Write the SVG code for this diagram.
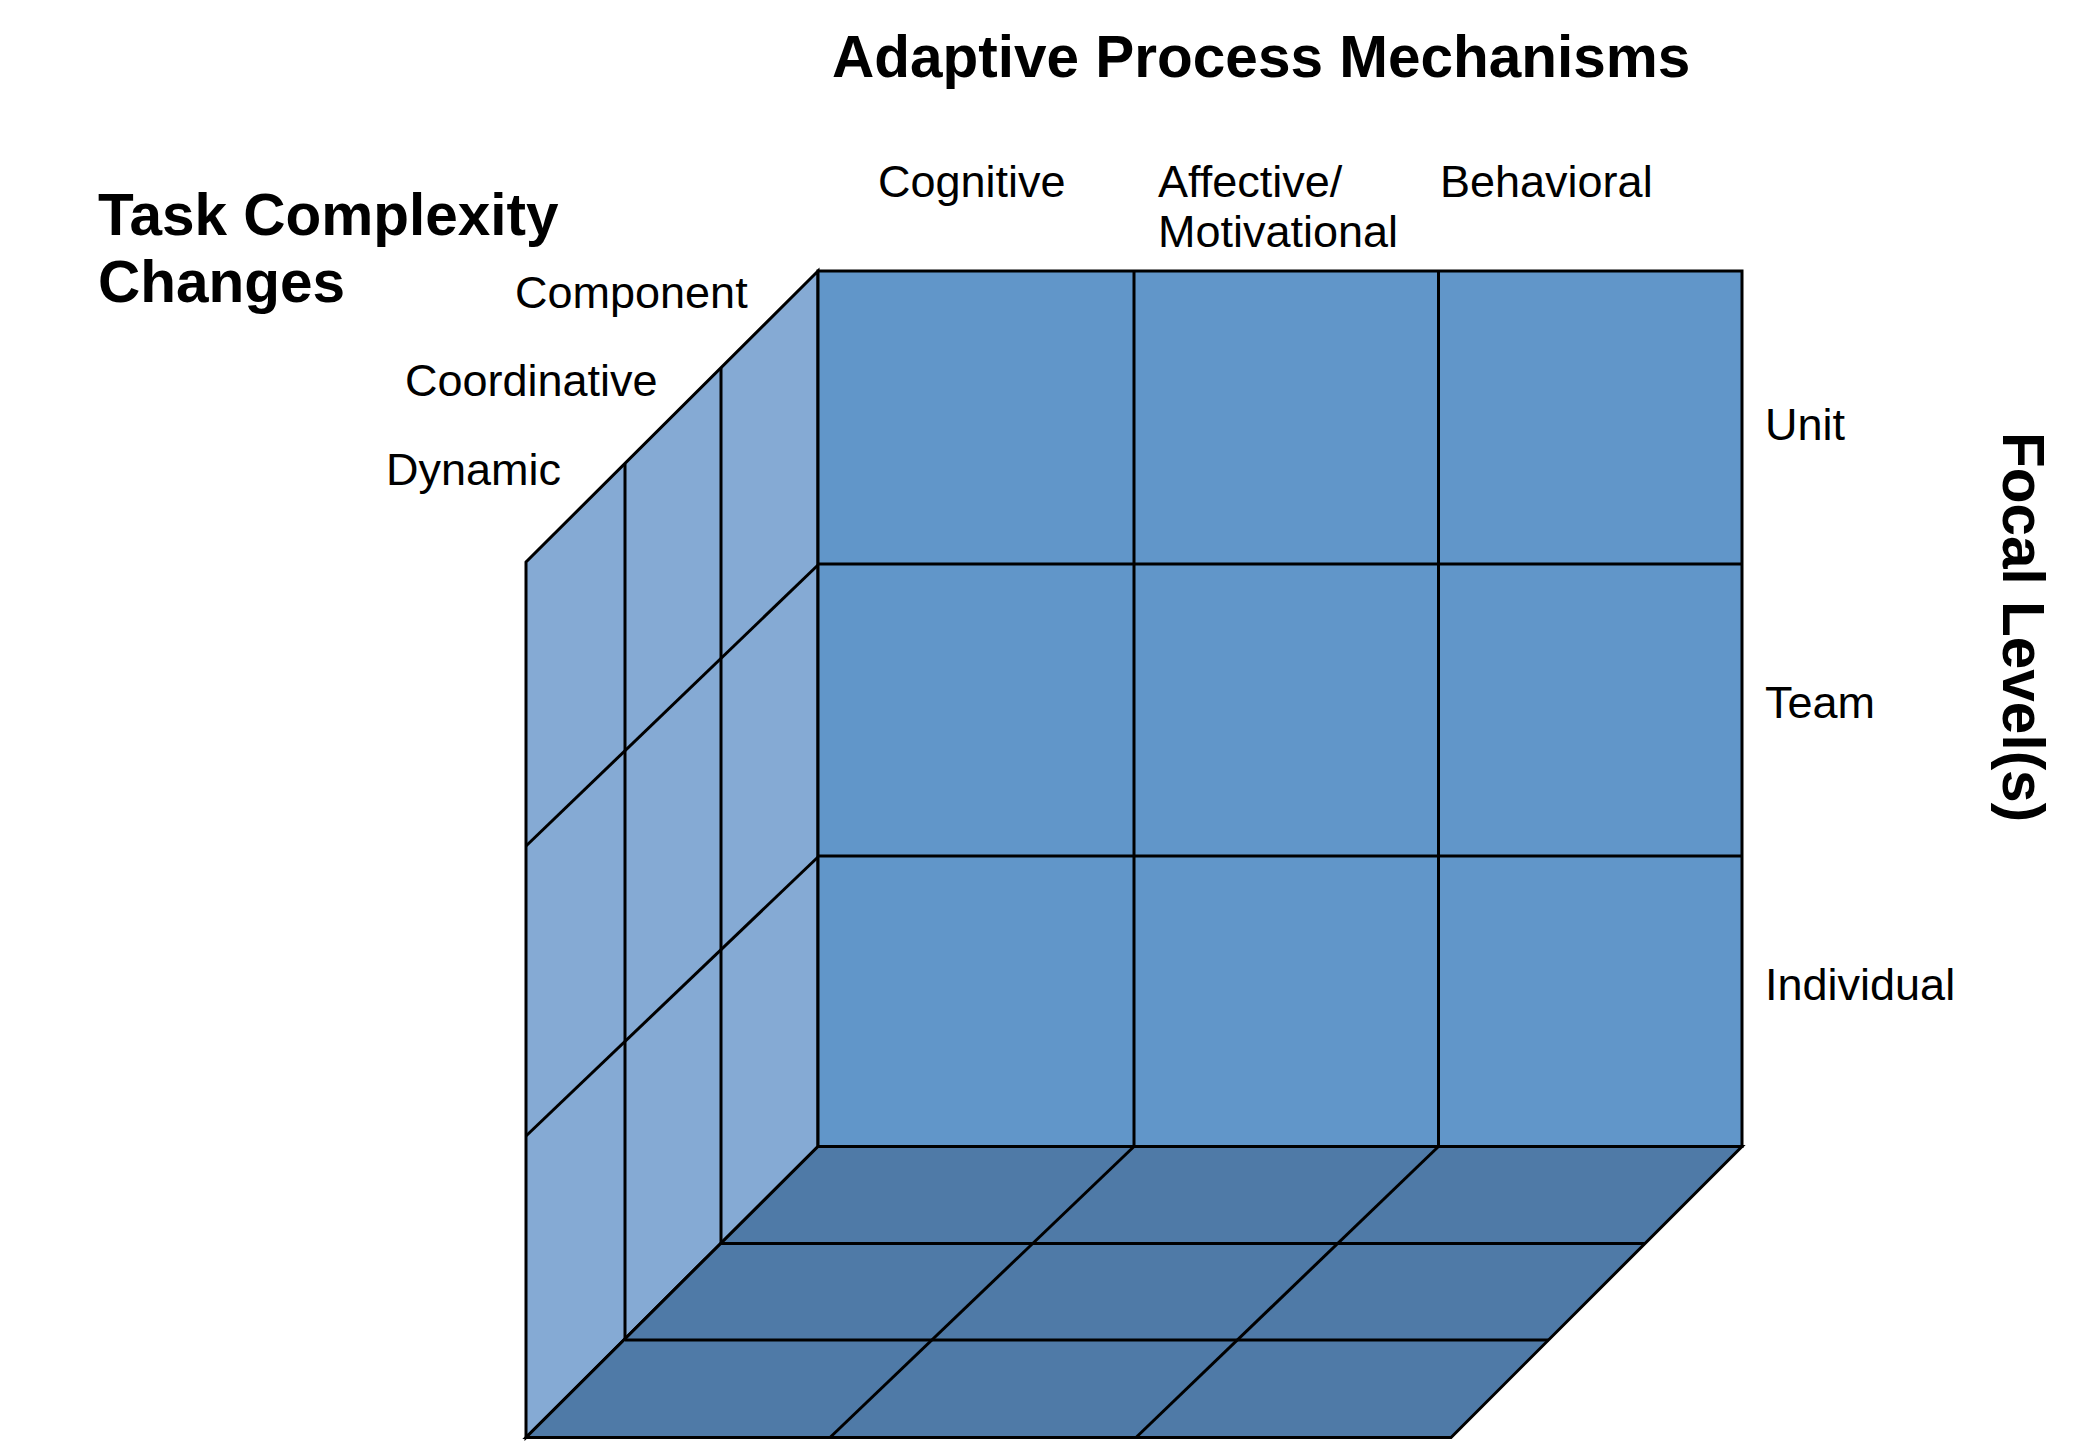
<svg xmlns="http://www.w3.org/2000/svg" width="2075" height="1441" viewBox="0 0 2075 1441">
  <style>
    .face { stroke: #000; stroke-width: 3; stroke-linejoin: miter; }
    .back { fill: #6196C9; }
    .side { fill: #85AAD4; }
    .floor { fill: #4F7AA7; }
    .grid { stroke: #000; stroke-width: 3; fill: none; stroke-linecap: butt; }
    .title { font-family: "Liberation Sans", Arial, sans-serif; font-weight: bold; font-size: 58.5px; fill: #000; }
    .label { font-family: "Liberation Sans", Arial, sans-serif; font-size: 45px; fill: #000; }
  </style>
  <rect width="2075" height="1441" fill="#fff"/>

  <g id="left-face">
    <polygon class="face side" points="526,562 818,271 818,1146.5 526,1437.5"/>
    <g class="grid">
      <line x1="625" y1="464" x2="625" y2="1339.5"/>
      <line x1="721" y1="368" x2="721" y2="1243.5"/>
      <line x1="818" y1="565" x2="526" y2="846"/>
      <line x1="818" y1="857" x2="526" y2="1136"/>
    </g>
  </g>

  <g id="bottom-face">
    <polygon class="face floor" points="818,1146.5 1742,1146.5 1451,1437.5 526,1437.5"/>
    <g class="grid">
      <line x1="721" y1="1243.5" x2="1645" y2="1243.5"/>
      <line x1="625" y1="1340" x2="1548.5" y2="1340"/>
      <line x1="1134" y1="1146.5" x2="830" y2="1437.5"/>
      <line x1="1438.5" y1="1146.5" x2="1136" y2="1437.5"/>
    </g>
  </g>

  <g id="back-face">
    <rect class="face back" x="818" y="271" width="924" height="875.5"/>
    <g class="grid">
      <line x1="1134" y1="271" x2="1134" y2="1146.5"/>
      <line x1="1438.5" y1="271" x2="1438.5" y2="1146.5"/>
      <line x1="818" y1="564" x2="1742" y2="564"/>
      <line x1="818" y1="856" x2="1742" y2="856"/>
    </g>
  </g>

  <g id="titles">
    <text class="title" x="832" y="77">Adaptive Process Mechanisms</text>
    <text class="title" x="98" y="235">Task Complexity</text>
    <text class="title" x="98" y="302">Changes</text>
    <text class="title" transform="translate(2003,432) rotate(90)">Focal Level(s)</text>
  </g>

  <g id="column-labels">
    <text class="label" x="878" y="197">Cognitive</text>
    <text class="label" x="1158" y="197">Affective/</text>
    <text class="label" x="1158" y="247">Motivational</text>
    <text class="label" x="1440" y="197">Behavioral</text>
  </g>

  <g id="depth-labels">
    <text class="label" x="515" y="308">Component</text>
    <text class="label" x="405" y="396">Coordinative</text>
    <text class="label" x="386" y="485">Dynamic</text>
  </g>

  <g id="row-labels">
    <text class="label" x="1765" y="440">Unit</text>
    <text class="label" x="1765" y="718">Team</text>
    <text class="label" x="1765" y="1000">Individual</text>
  </g>
</svg>
